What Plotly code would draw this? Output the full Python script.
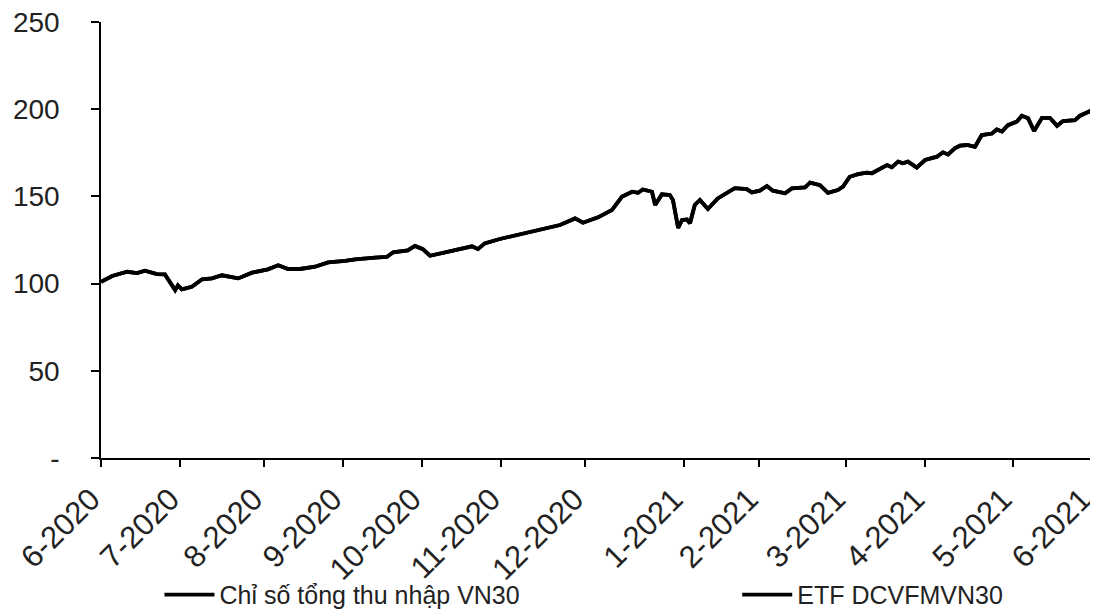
import plotly.graph_objects as go

# x = trading-session index (0 = start of 6-2020, 250 = start of 6-2021)
session = [0, 2.8, 6.6, 9.1, 11.1, 14.1, 16.1, 18.7, 19.4, 20.4, 22.9, 25.5, 28.0, 30.5,
           34.6, 38.1, 42.1, 44.7, 47.2, 50.2, 54.0, 57.3, 61.6, 64.1, 69.1, 72.1, 73.7,
           77.4, 79.2, 81.2, 83.0, 86.0, 90.0, 93.6, 95.1, 96.8, 100.6, 103.7, 107.7,
           111.5, 115.8, 119.6, 121.6, 125.4, 128.9, 131.4, 134.0, 135.5, 136.7, 139.0,
           139.8, 141.5, 143.5, 144.3, 145.6, 146.6, 147.8, 148.6, 149.8, 151.1, 153.1,
           155.6, 159.9, 162.9, 164.2, 166.2, 168.0, 169.5, 172.6, 174.3, 177.6, 178.9,
           181.4, 183.4, 185.9, 187.2, 188.9, 191.0, 193.2, 194.5, 196.5, 198.3, 199.5,
           201.1, 202.3, 203.6, 205.8, 207.9, 210.9, 212.4, 213.7, 215.4, 216.7, 218.5,
           220.5, 222.2, 224.8, 226.0, 227.3, 228.8, 231.1, 232.3, 233.9, 235.4, 237.4,
           239.4, 241.2, 242.7, 245.7, 247.0, 250.0]

vn30_total_return = [101, 104.4, 106.8, 106, 107.4, 105.5, 105.3, 96.3, 99, 96.7, 98.2, 102.5,
                     103, 104.8, 103, 106.3, 108.2, 110.5, 108.4, 108.4, 109.7, 112.2, 113,
                     113.9, 114.9, 115.3, 118, 119.1, 121.6, 119.8, 116, 117.4, 119.7, 121.4,
                     119.8, 123.1, 125.6, 127.3, 129.4, 131.1, 133.6, 137.4, 134.9, 138,
                     142.2, 149.8, 152.7, 152.1, 154, 152.7, 145.1, 151.2, 150.8, 147.9,
                     131.9, 136.5, 136.8, 134.6, 145.1, 148, 142.8, 148.9, 154.8, 154.2,
                     152.3, 153.3, 156, 153.3, 151.8, 154.6, 155.2, 157.9, 156.5, 152.1,
                     153.7, 155.6, 161.3, 162.8, 163.6, 163.3, 166.1, 168, 166.7, 170, 169,
                     170, 166.5, 170.9, 172.8, 175.3, 174.1, 177.6, 179.1, 179.5, 178.5,
                     185.2, 186.1, 188.4, 187.2, 190.9, 193, 196.3, 194.8, 187.5, 195.1,
                     195.1, 190.5, 193.2, 193.8, 196.3, 199.5]

# ETF tracks the index so closely that the two lines coincide in the picture
etf_dcvfmvn30 = vn30_total_return

tick_sessions = [0, 20, 41, 61, 81, 101, 122, 147, 166, 188, 208, 230, 250]
tick_labels = ["6-2020", "7-2020", "8-2020", "9-2020", "10-2020", "11-2020", "12-2020",
               "1-2021", "2-2021", "3-2021", "4-2021", "5-2021", "6-2021"]

y_ticks = [0, 50, 100, 150, 200, 250]
y_labels = ["-", "50", "100", "150", "200", "250"]

FONT = "Liberation Sans, Arial, sans-serif"

fig = go.Figure()
fig.add_trace(go.Scatter(x=session, y=vn30_total_return, mode="lines",
                         name="Chỉ số tổng thu nhập VN30",
                         line=dict(color="black", width=3.8), legend="legend"))
fig.add_trace(go.Scatter(x=session, y=etf_dcvfmvn30, mode="lines",
                         name="ETF DCVFMVN30",
                         line=dict(color="black", width=3.8), legend="legend2"))

line_common = dict(showgrid=False, zeroline=False, showline=True, linecolor="black",
                   linewidth=1.5, ticks="outside", tickcolor="black", tickwidth=1.5,
                   automargin=False, ticklabeloverflow="allow")

# page body has an 8px default margin, so the figure is sized/offset to compensate
fig.update_layout(
    width=1090, height=620,
    margin=dict(l=93, r=6, t=14, b=170),
    paper_bgcolor="white", plot_bgcolor="white",
    xaxis=dict(range=[-0.01, 250.02], tickvals=tick_sessions, ticktext=tick_labels,
               tickangle=-45, ticklen=7, ticklabelstandoff=2, ticklabelshift=-10,
               tickfont=dict(family=FONT, size=31, color="#222"), **line_common),
    yaxis=dict(range=[0, 250.05], tickvals=y_ticks, ticktext=y_labels, ticklen=8,
               ticklabelstandoff=26,
               tickfont=dict(family=FONT, size=28, color="#222"), **line_common),
    legend=dict(x=0.059, y=-0.314, xanchor="left", yanchor="middle", itemwidth=50,
                font=dict(family=FONT, size=25, color="#222"), bgcolor="rgba(0,0,0,0)"),
    legend2=dict(x=0.642, y=-0.314, xanchor="left", yanchor="middle", itemwidth=50,
                 font=dict(family=FONT, size=25, color="#222"), bgcolor="rgba(0,0,0,0)"),
    showlegend=True,
)

fig.write_html("out.html")
